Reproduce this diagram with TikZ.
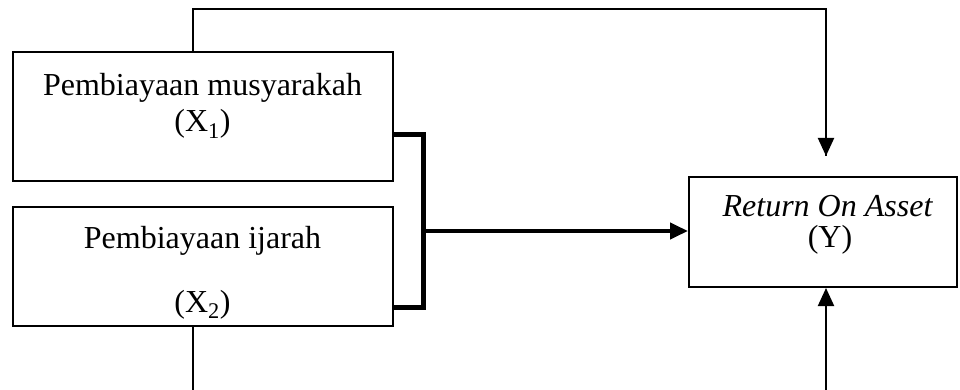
\documentclass[tikz,border=0pt]{standalone}
\usepackage{fontspec}
\setmainfont{Liberation Serif}
\usetikzlibrary{arrows.meta}
\begin{document}
\begin{tikzpicture}[x=1pt,y=-1pt,
  box/.style={draw,line width=2pt,rectangle,inner sep=0pt},
  lbl/.style={anchor=base,inner sep=0pt,font=\fontsize{32}{38}\selectfont},
  thin/.style={line width=2pt},
  thick/.style={line width=5pt},
  tip/.style={-{Triangle[width=16pt,length=18pt]}}]
\useasboundingbox (0,0) rectangle (960,390);
\node[box,minimum width=380pt,minimum height=129pt] (b1) at (203,116.5) {};
\node[box,minimum width=380pt,minimum height=119pt] (b2) at (203,266.5) {};
\node[box,minimum width=268pt,minimum height=110pt] (by) at (823,232) {};
\node[lbl] (t1a) at (202.5,96) {Pembiayaan musyarakah};
\node[lbl] (t1b) at (202.5,132) {(X\textsubscript{1})};
\node[lbl] (t2a) at (202.5,248) {Pembiayaan ijarah};
\node[lbl] (t2b) at (202.5,312) {(X\textsubscript{2})};
\node[lbl] (tya) at (827.5,216) {\itshape Return On Asset};
\node[lbl] (tyb) at (830,247) {(Y)};
% bracket
\coordinate (bt) at (423,135);
\coordinate (bb) at (423,307);
\coordinate (bm) at (423,231);
\draw[thick,line join=miter] (b1.east |- bt) -- (bt) -- (bb) -- (b2.east |- bb);
\draw[line width=4pt,tip] (bm) -- (by.west |- bm);
% top route
\coordinate (tl) at (193,9);
\coordinate (tr) at (826,9);
\coordinate (ta) at (826,156);
\draw[thin,line join=miter] (b1.north -| tl) -- (tl) -- (tr) -- (ta);
\draw[thin,tip] (826,140) -- (ta);
% bottom routes
\coordinate (bl) at (193,391);
\coordinate (br) at (826,391);
\draw[thin] (b2.south -| bl) -- (bl);
\draw[thin,tip] (br) -- (by.south -| br);
\end{tikzpicture}
\end{document}
